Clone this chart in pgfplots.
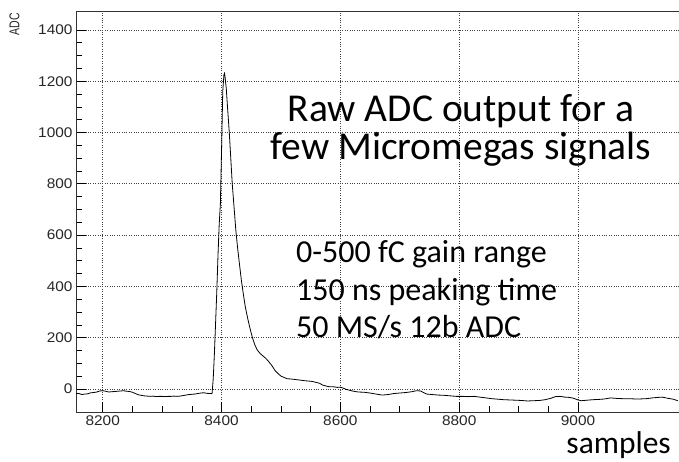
\documentclass[border=0pt]{standalone}
\usepackage{fontspec}
\setmainfont{Carlito}
\newfontfamily\arial{Liberation Sans}
\usepackage{pgfplots}
\pgfplotsset{compat=1.18}
\begin{document}
\begin{tikzpicture}[x=1pt,y=1pt]
\path[use as bounding box] (0,0) rectangle (679,461);
\begin{axis}[
  at={(76pt,49pt)}, anchor=south west,
  scale only axis, width=603pt, height=400pt,
  xmin=8155, xmax=9170, ymin=-90, ymax=1470,
  xtick={8200,8400,8600,8800,9000},
  ytick={0,200,400,600,800,1000,1200,1400},
  minor x tick num=3, minor y tick num=3,
  xtick pos=bottom, ytick pos=left,
  tick align=inside,
  major tick length=10pt, minor tick length=6pt,
  every tick/.style={black, line width=0.6pt},
  grid=major,
  major grid style={black!75, line width=0.6pt, dash pattern=on 0.8pt off 1.6pt},
  axis line style={black!80, line width=1pt},
  /pgf/number format/assume math mode=true,
  /pgf/number format/1000 sep={},
  ticklabel style={font=\arial\fontsize{14}{14}\selectfont, text=black!85},
  xticklabel={\scalebox{1.1}[1]{\pgfmathprintnumber{\tick}}},
  yticklabel={\scalebox{1.1}[1]{\pgfmathprintnumber{\tick}}},
]
\addplot[black, line width=0.8pt] coordinates {
(8155,-18) (8160,-18) (8165,-22) (8170,-20) (8175,-19) (8180,-15) (8185,-14) (8190,-12) (8195,-8) (8200,-7)
(8205,-9) (8210,-12) (8215,-11) (8220,-10) (8225,-9) (8230,-8) (8235,-7) (8240,-9) (8245,-10) (8250,-13)
(8255,-18) (8260,-23) (8265,-25) (8270,-27) (8275,-28) (8280,-29) (8285,-28) (8290,-30) (8295,-29) (8300,-29)
(8305,-30) (8310,-29) (8315,-29) (8320,-28) (8325,-29) (8330,-28) (8335,-26) (8340,-24) (8345,-22) (8350,-21)
(8355,-20) (8360,-18) (8365,-16) (8370,-15) (8375,-17) (8380,-18) (8384,-18)
(8386,40) (8388,140) (8390,260) (8392,380) (8394,520) (8396,640) (8398,720) (8400,930) (8402,1160) (8404,1225)
(8405,1231) (8406,1215) (8408,1170) (8410,1100) (8413,1000) (8416,880) (8418,800) (8421,710) (8424,620) (8427,550)
(8430,490) (8433,430) (8436,380) (8440,320) (8444,275) (8448,235) (8452,200) (8456,172) (8460,152) (8465,138)
(8470,128) (8475,118) (8480,105) (8485,90) (8490,72) (8495,60) (8500,50) (8505,45) (8510,40) (8520,38)
(8530,35) (8540,32) (8550,30) (8555,28) (8560,25) (8565,22) (8570,15) (8575,12) (8580,9) (8590,8)
(8595,6) (8600,7) (8605,3) (8610,-2) (8615,-5) (8620,-8) (8625,-10) (8630,-12) (8640,-13) (8650,-16)
(8660,-20) (8670,-24) (8680,-22) (8690,-18) (8700,-16) (8710,-14) (8720,-11) (8728,-7) (8735,-8) (8740,-14)
(8745,-20) (8755,-22) (8765,-24) (8775,-25) (8785,-27) (8795,-29) (8805,-29) (8815,-30) (8825,-29) (8835,-32)
(8845,-35) (8855,-38) (8865,-40) (8875,-42) (8885,-43) (8895,-44) (8905,-45) (8915,-47) (8925,-46) (8935,-45)
(8945,-42) (8955,-36) (8962,-30) (8970,-29) (8978,-32) (8985,-33) (8992,-36) (9000,-43) (9005,-46) (9015,-44)
(9025,-42) (9035,-41) (9045,-39) (9055,-35) (9065,-37) (9075,-38) (9085,-38) (9095,-39) (9105,-39) (9115,-38)
(9125,-35) (9135,-33) (9142,-32) (9150,-36) (9160,-40) (9168,-46)
};
\end{axis}
\node[rotate=90, anchor=east, font=\arial\fontsize{10.5}{10.5}\selectfont, text=black!85, inner sep=0pt] at (14.5,448) {\scalebox{1}[1.35]{ADC}};
\node[anchor=base, font=\fontsize{39.5}{39.5}\selectfont, inner sep=0pt] at (461,339) {Raw ADC output for a};
\node[anchor=base, font=\fontsize{39.5}{39.5}\selectfont, inner sep=0pt] at (461,301) {few Micromegas signals};
\node[anchor=base west, font=\fontsize{32}{32}\selectfont, inner sep=0pt] at (296,199) {0-500 fC gain range};
\node[anchor=base west, font=\fontsize{32}{32}\selectfont, inner sep=0pt] at (296,161) {150 ns peaking time};
\node[anchor=base west, font=\fontsize{32}{32}\selectfont, inner sep=0pt] at (296,124) {50 MS/s 12b ADC};
\node[anchor=base east, font=\fontsize{31.5}{31.5}\selectfont, inner sep=0pt] at (671,8) {samples};
\end{tikzpicture}
\end{document}
